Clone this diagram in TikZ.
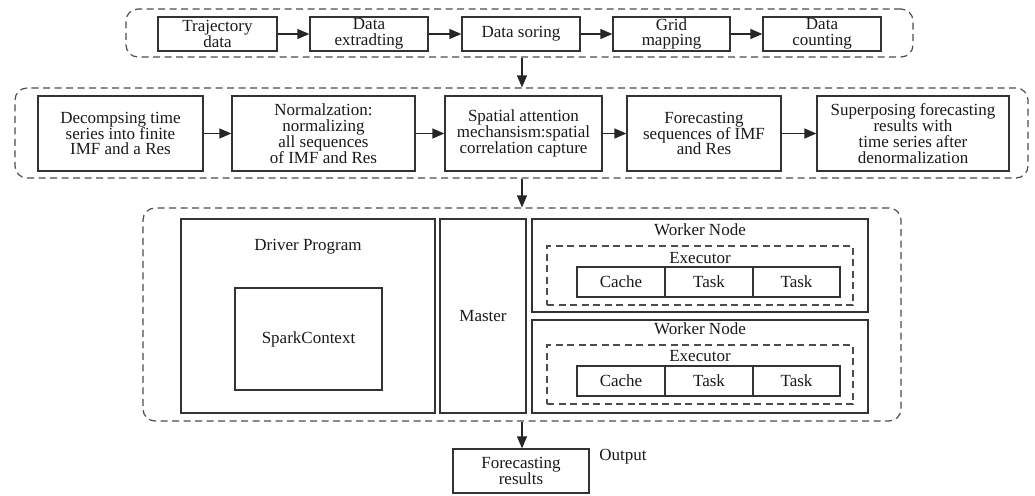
\documentclass[tikz,border=0pt]{standalone}
\usepackage{fontspec}
\setmainfont{Liberation Serif}
\usetikzlibrary{arrows.meta}
\newcommand\mybox[6]{\node[#1, minimum width={(#5)-(#3)}, minimum height={(#6)-(#4)}] (#2) at ({((#3)+(#5))/2},{((#4)+(#6))/2})}
\begin{document}
\begin{tikzpicture}[x=1pt,y=-1pt,
 every node/.style={font=\fontsize{17}{15.8}\selectfont, text=black!90},
 blk/.style={draw=black!80, line width=1.3pt, align=center, inner sep=0pt},
 grp/.style={draw=black!70, line width=1.2pt, dash pattern=on 7pt off 4.5pt, rounded corners=12pt, inner sep=0pt},
 exe/.style={draw=black!70, line width=1.2pt, dash pattern=on 7pt off 4.5pt, inner sep=0pt},
 arr/.style={draw=black!85, line width=1.3pt, -{Triangle[length=12pt,width=10pt]}},
 lbl/.style={inner sep=0pt, align=center}
]
\useasboundingbox (0,0) rectangle (1035,495);
\coordinate (spine) at (522,0);

% top group
\mybox{grp}{topgrp}{126}{9}{913}{57} {};
\mybox{blk}{t1}{158}{17}{277}{51} {Trajectory\\data};
\mybox{blk}{t2}{310}{17}{428}{51} {Data\\extradting};
\mybox{blk}{t3}{462}{17}{580}{51} {Data soring};
\mybox{blk}{t4}{613}{17}{730}{51} {Grid\\mapping};
\mybox{blk}{t5}{763}{17}{881}{51} {Data\\counting};
\draw[arr] (t1) -- (t2);
\draw[arr] (t2) -- (t3);
\draw[arr] (t3) -- (t4);
\draw[arr] (t4) -- (t5);

% middle group
\mybox{grp}{midgrp}{15}{88}{1028}{178} {};
\mybox{blk}{m1}{38}{96}{203}{171} {Decompsing time\\series into finite\\IMF and a Res};
\mybox{blk}{m2}{232}{96}{415}{171} {Normalzation:\\normalizing\\all sequences\\of IMF and Res};
\mybox{blk}{m3}{445}{96}{602}{171} {Spatial attention\\mechansism:spatial\\correlation capture};
\mybox{blk}{m4}{627}{96}{781}{171} {Forecasting\\sequences of IMF\\and Res};
\mybox{blk}{m5}{817}{96}{1009}{171} {Superposing forecasting\\results with\\time series after\\denormalization};
\draw[arr] (m1) -- (m2);
\draw[arr] (m2) -- (m3);
\draw[arr] (m3) -- (m4);
\draw[arr] (m4) -- (m5);

% bottom group
\mybox{grp}{botgrp}{143}{208}{901}{421} {};
\mybox{blk}{driver}{181}{219}{435}{413} {};
\node[lbl] (driverlbl) at (308,247) {Driver Program};
\mybox{blk}{spark}{235}{288}{382}{390} {SparkContext};
\mybox{blk}{master}{440}{219}{526}{413} {Master};

\mybox{blk}{w1}{532}{219}{868}{312} {};
\node[lbl] (w1lbl) at (700,230) {Worker Node};
\mybox{exe}{ex1}{547}{246}{853}{305} {};
\node[lbl] (ex1lbl) at (700,258) {Executor};
\mybox{blk}{c11}{577}{267}{665}{297} {Cache};
\mybox{blk}{c12}{665}{267}{753}{297} {Task};
\mybox{blk}{c13}{753}{267}{840}{297} {Task};

\mybox{blk}{w2}{532}{320}{868}{413} {};
\node[lbl] (w2lbl) at (700,329) {Worker Node};
\mybox{exe}{ex2}{547}{345}{853}{404} {};
\node[lbl] (ex2lbl) at (700,356) {Executor};
\mybox{blk}{c21}{577}{366}{665}{396} {Cache};
\mybox{blk}{c22}{665}{366}{753}{396} {Task};
\mybox{blk}{c23}{753}{366}{840}{396} {Task};

% output
\mybox{blk}{out}{453}{449}{589}{493} {Forecasting\\results};
\node[lbl] (outlbl) at (623,457) {Output};

% spine arrows
\draw[arr] (topgrp.south -| spine) -- (midgrp.north -| spine);
\draw[arr] (midgrp.south -| spine) -- (botgrp.north -| spine);
\draw[arr] (botgrp.south -| spine) -- (out.north -| spine);
\end{tikzpicture}
\end{document}
